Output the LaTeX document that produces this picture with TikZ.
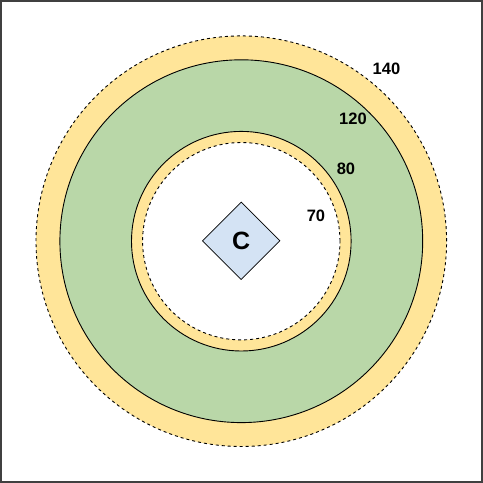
\documentclass[tikz,border=0pt]{standalone}
\usepackage{fontspec}
\setmainfont{Liberation Sans}
\usetikzlibrary{shapes.geometric}
\definecolor{ringyellow}{HTML}{FFE599}
\definecolor{ringgreen}{HTML}{B9D7A8}
\definecolor{diamondblue}{HTML}{D4E3F4}
\tikzset{
  ring/.style={circle, draw=black, line width=0.9pt, inner sep=0pt, minimum size=#1},
  dashring/.style={ring=#1, dash pattern=on 3pt off 3pt},
  lbl/.style={font=\bfseries\fontsize{16.5}{16.5}\selectfont, inner sep=0pt},
}
\begin{document}
\begin{tikzpicture}[x=1pt, y=-1pt]
\useasboundingbox (0,0) rectangle (483,483);
\draw[line width=1.4pt, black!75] (1,1) rectangle (481.8,481.8);
\node[dashring=410.6pt, fill=ringyellow] (r140) at (241.3,241.2) {};
\node[ring=362.8pt, fill=ringgreen] (r120) at (241.3,241.2) {};
\node[ring=219.6pt, fill=ringyellow] (r80) at (241.3,241.2) {};
\node[dashring=197.4pt, fill=white] (r70) at (241.3,241.2) {};
\node[diamond, draw=black, line width=0.7pt, fill=diamondblue, inner sep=0pt,
      minimum width=77.6pt, minimum height=77.6pt,
      font=\bfseries\fontsize{25}{25}\selectfont] (c) at (241.2,240.8) {C};
\node[lbl] (l140) at (386.5,68.5) {140};
\node[lbl] (l120) at (353,119) {120};
\node[lbl] (l80) at (346,169) {80};
\node[lbl] (l70) at (316,215.5) {70};
\end{tikzpicture}
\end{document}
